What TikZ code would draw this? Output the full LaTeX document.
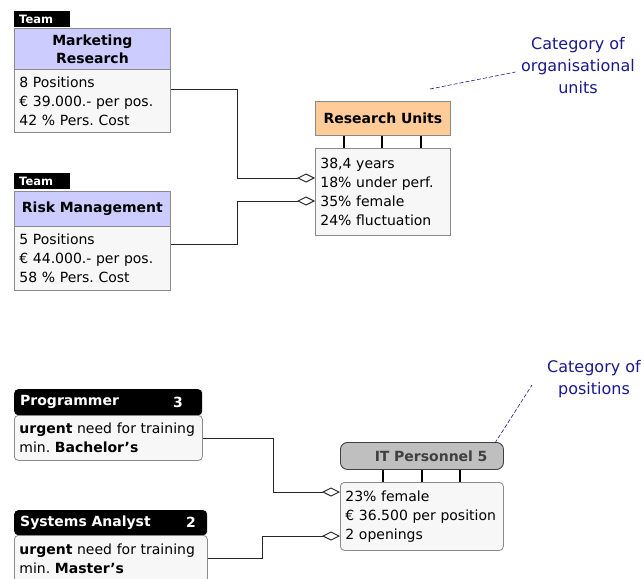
\documentclass[tikz,border=0pt]{standalone}
\usepackage{fontspec}
\setmainfont{DejaVu Sans}
\usetikzlibrary{arrows.meta}
\frenchspacing
\definecolor{boxline}{HTML}{8A8A8A}
\definecolor{bodyfill}{HTML}{F7F7F7}
\definecolor{lavender}{HTML}{CCCCFF}
\definecolor{apricot}{HTML}{FFCC99}
\definecolor{itgray}{HTML}{BFBFBF}
\definecolor{ittext}{HTML}{404040}
\definecolor{notecol}{HTML}{1A1A8C}
\tikzset{
  txt/.style={font=\fontsize{14}{19}\selectfont},
  teamtab/.style={fill=black, text=white, font=\bfseries\fontsize{11.5}{13}\selectfont,
    anchor=north west, text width=46pt, inner xsep=5pt, inner ysep=0pt,
    minimum height=16pt, align=left},
  boxbase/.style={draw=boxline, line width=0.8pt, anchor=north west, inner xsep=5pt,
    inner ysep=0pt, txt},
  unithead/.style={boxbase, fill=lavender, font=\bfseries\fontsize{14}{19}\selectfont,
    align=center},
  orghead/.style={boxbase, fill=apricot, font=\bfseries\fontsize{14}{19}\selectfont,
    align=center},
  bodybox/.style={boxbase, fill=bodyfill, align=left},
  poshead/.style={fill=black, text=white, rounded corners=4pt, anchor=north west,
    inner xsep=6pt, inner ysep=0pt, font=\bfseries\fontsize{14}{19}\selectfont, align=left},
  posbody/.style={bodybox, rounded corners=4pt},
  count/.style={text=white, font=\bfseries\fontsize{14}{19}\selectfont, inner sep=0pt},
  ithead/.style={draw=ittext, line width=0.9pt, fill=itgray, rounded corners=7pt,
    anchor=north west, inner ysep=0pt, text=ittext,
    font=\bfseries\fontsize{14}{19}\selectfont, align=right},
  note/.style={text=notecol, font=\fontsize{16}{22}\selectfont, align=center},
  noteline/.style={notecol, dash pattern=on 4pt off 2pt, line width=0.6pt},
  conn/.style={draw=black!85, line width=0.9pt, -{Diamond[open, length=18pt, width=9pt]}},
  stub/.style={draw=black, line width=1.1pt},
}
\begin{document}
\begin{tikzpicture}[x=1pt, y=-1pt]
\useasboundingbox[fill=white] (0,0) rectangle (644,578);

% ---- Team: Marketing Research
\node[teamtab] (mrtab) at (14,11) {Team};
\node[unithead, text width=146pt, minimum height=41pt] (mrhead) at (14,28) {Marketing\\[-1pt]Research};
\node[bodybox, text width=146pt, minimum height=63pt] (mrbody) at (14,69)
  {8 Positions\\€ 39.000.- per pos.\\42 \% Pers. Cost};

% ---- Team: Risk Management
\node[teamtab] (rmtab) at (14,173) {Team};
\node[unithead, text width=146pt, minimum height=35pt] (rmhead) at (14,191) {Risk Management};
\node[bodybox, text width=146pt, minimum height=64pt] (rmbody) at (14,226)
  {5 Positions\\€ 44.000.- per pos.\\58 \% Pers. Cost};

% ---- Category of organisational units
\node[orghead, text width=125pt, minimum height=34pt] (ruhead) at (315,101) {Research Units};
\node[bodybox, text width=125pt, minimum height=87pt] (rubody) at (315,148)
  {38,4 years\\18\% under perf.\\35\% female\\24\% fluctuation};
\foreach \sx in {344,382,421}
  \draw[stub] (ruhead.south -| \sx,0) -- (rubody.north -| \sx,0);

\draw[conn] (mrbody.east |- 0,89) -- (237,89) |- (rubody.west |- 0,178);
\draw[conn] (rmbody.east |- 0,244) -- (237,244) |- (rubody.west |- 0,201);

\node[note] (catunit) at (578,66) {Category of\\organisational\\units};
\coordinate (rutag) at (430,89);
\draw[noteline] (rutag) -- ([xshift=-2pt]catunit.west |- 0,72);

% ---- Positions
\node[poshead, text width=176pt, minimum height=26pt] (proghead) at (14,389) {Programmer};
\node[count] (prognum) at (178,402) {3};
\node[posbody, text width=178pt, minimum height=45pt] (progbody) at (14,415)
  {\textbf{urgent} need for training\\min. \textbf{Bachelor’s}};

\node[poshead, text width=181pt, minimum height=25pt] (sahead) at (14,510) {Systems Analyst};
\node[count] (sanum) at (191,522) {2};
\node[posbody, text width=183pt, minimum height=47pt] (sabody) at (14,535)
  {\textbf{urgent} need for training\\min. \textbf{Master’s}};

% ---- Category of positions
\node[ithead, text width=131pt, inner xsep=16pt, minimum height=27pt] (ithead) at (340,442) {IT Personnel 5};
\node[posbody, text width=153pt, minimum height=68pt] (itbody) at (340,482)
  {23\% female\\€ 36.500 per position\\2 openings};
\foreach \sx in {383,422,460}
  \draw[stub] (ithead.south -| \sx,0) -- (itbody.north -| \sx,0);

\draw[conn] (progbody.east |- 0,438) -- (273,438) |- (itbody.west |- 0,492);
\draw[conn] (sabody.east |- 0,558) -- (262,558) |- (itbody.west |- 0,536);

\node[note] (catpos) at (594,379) {Category of\\positions};
\coordinate (ittag) at (495,443);
\draw[noteline] (ittag) -- (532,385);
\end{tikzpicture}
\end{document}
